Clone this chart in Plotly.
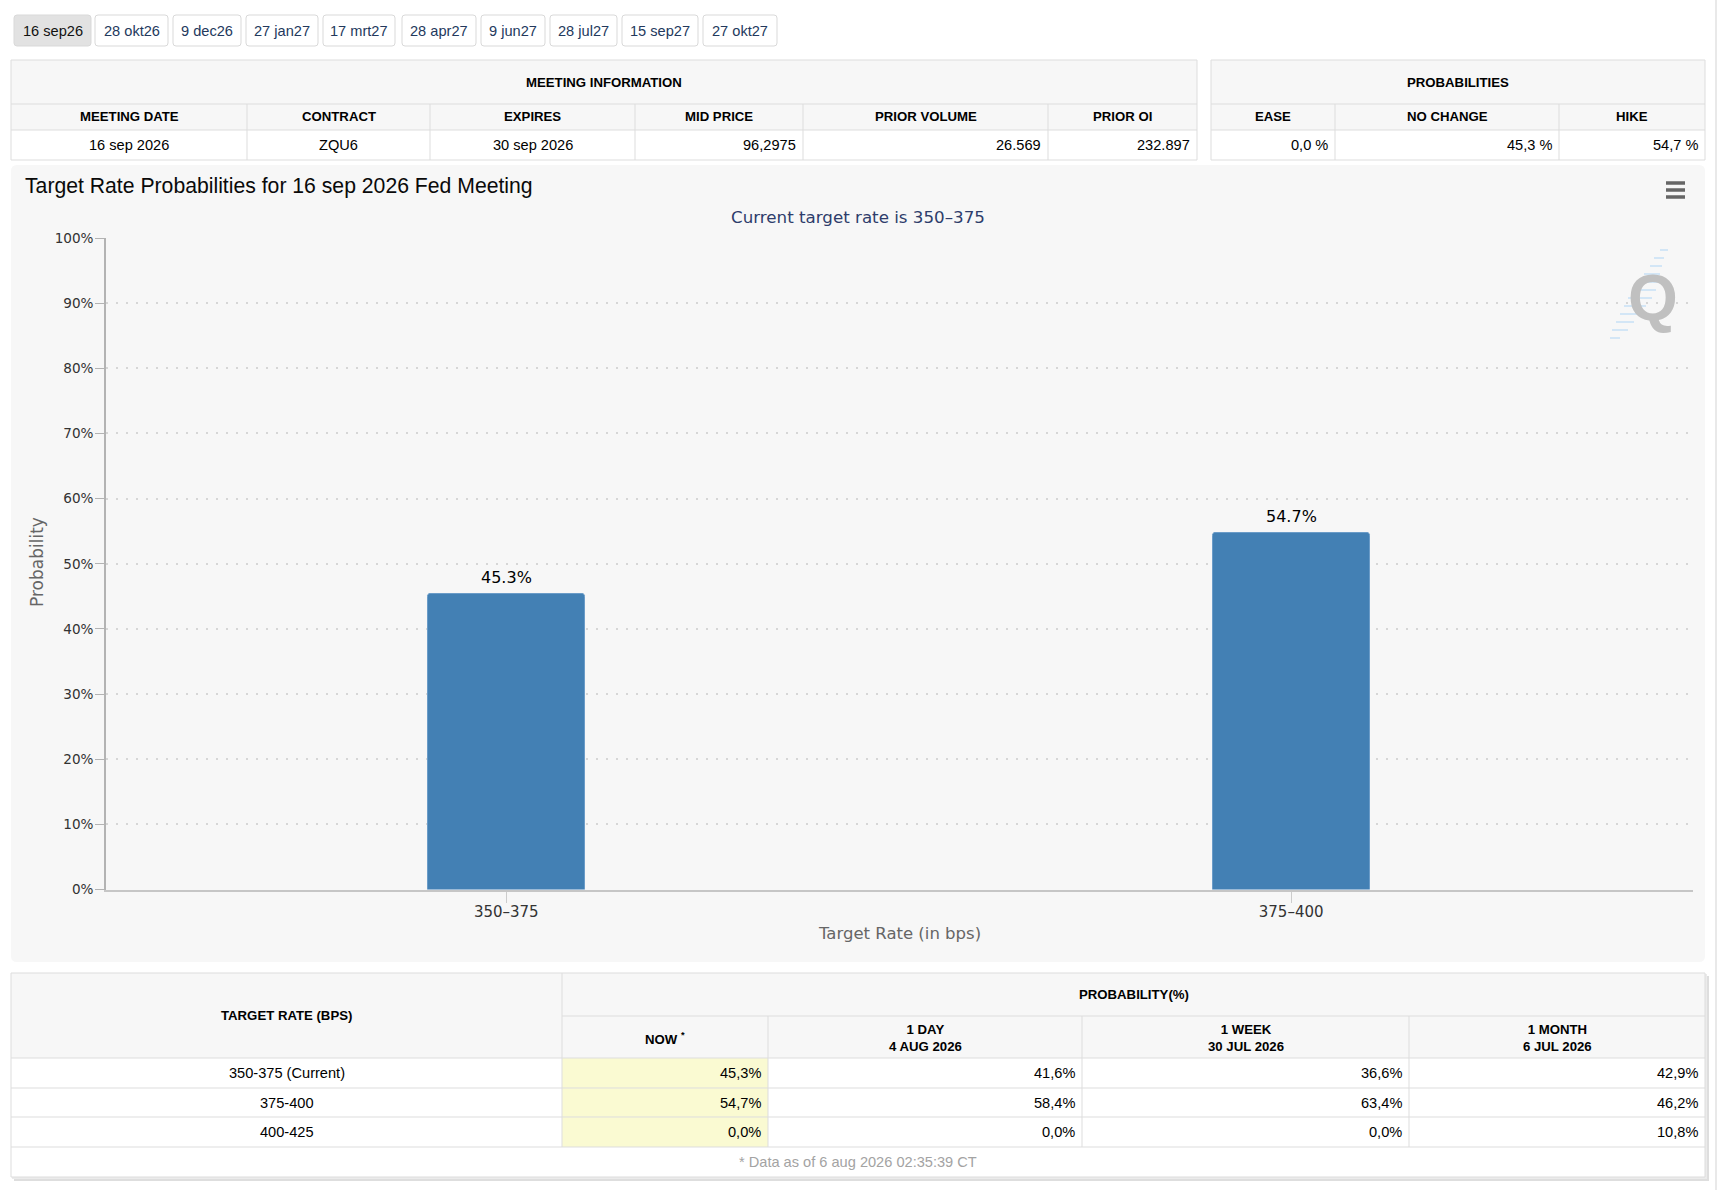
import plotly.graph_objects as go

W, H = 1722, 1190

# ---------------- data ----------------
meeting_buttons = ["16 sep26", "28 okt26", "9 dec26", "27 jan27", "17 mrt27",
                   "28 apr27", "9 jun27", "28 jul27", "15 sep27", "27 okt27"]
selected_button = 0
meeting_headers = ["MEETING DATE", "CONTRACT", "EXPIRES", "MID PRICE", "PRIOR VOLUME", "PRIOR OI"]
meeting_values = ["16 sep 2026", "ZQU6", "30 sep 2026", "96,2975", "26.569", "232.897"]
prob_headers = ["EASE", "NO CHANGE", "HIKE"]
prob_values = [0.0, 45.3, 54.7]

chart_title = "Target Rate Probabilities for 16 sep 2026 Fed Meeting"
current_rate = "350–375"
rate_bins = ["350–375", "375–400"]
prob_chart = [45.3, 54.7]

table_rates = ["350-375 (Current)", "375-400", "400-425"]
hist_headers = ["NOW <sup>*</sup>", "1 DAY<br>4 AUG 2026", "1 WEEK<br>30 JUL 2026", "1 MONTH<br>6 JUL 2026"]
prob_now = [45.3, 54.7, 0.0]
prob_1day = [41.6, 58.4, 0.0]
prob_1week = [36.6, 63.4, 0.0]
prob_1month = [42.9, 46.2, 10.8]
data_timestamp = "6 aug 2026 02:35:39 CT"

# ---------------- layout constants (pixels) ----------------
BTN_EDGES = [(14, 91), (95, 168), (173, 241), (246, 318), (323, 395),
             (402, 476), (481, 545), (550, 617), (622, 698), (703, 777)]
BTN_Y = (15, 46)
MI_COLS = [11, 247, 430, 635, 803, 1048, 1197]
PR_COLS = [1211, 1335, 1559, 1705]
TOP_ROWS = [60, 104, 130, 160]
MI_ALIGN = ["center", "center", "center", "right", "right", "right"]
BT_COLS = [11, 562, 768, 1082, 1409, 1705]
BT_ROWS = [973, 1016, 1058, 1088, 1117, 1147, 1177]
CHART_BOX = (11, 165, 1705, 962)
PLOT_X = (106, 1693)
PLOT_Y = (238, 889.5)

TABLE_FONT = "Liberation Sans, Arial, Helvetica, sans-serif"
CHART_FONT = "DejaVu Sans, Verdana, sans-serif"
BORDER = "#dddddd"
HEAD_BG = "#f7f7f7"
HEAD_SIZE = 13.2
CELL_SIZE = 14.6


def X(v):
    return v / W


def Y(v):
    return 1 - v / H


shapes = []
annotations = []


def rect(x0, y0, x1, y1, fill=None, line=None, lw=1, layer="below"):
    shapes.append(dict(type="rect", xref="paper", yref="paper",
                       x0=X(x0), x1=X(x1), y0=Y(y1), y1=Y(y0),
                       fillcolor=fill if fill else "rgba(0,0,0,0)",
                       line=dict(color=line if line else "rgba(0,0,0,0)", width=lw if line else 0),
                       layer=layer))


def rrect(x0, y0, x1, y1, r, fill, line=None, lw=1, layer="below"):
    p = (f"M {X(x0 + r)},{Y(y0)} L {X(x1 - r)},{Y(y0)} Q {X(x1)},{Y(y0)} {X(x1)},{Y(y0 + r)} "
         f"L {X(x1)},{Y(y1 - r)} Q {X(x1)},{Y(y1)} {X(x1 - r)},{Y(y1)} "
         f"L {X(x0 + r)},{Y(y1)} Q {X(x0)},{Y(y1)} {X(x0)},{Y(y1 - r)} "
         f"L {X(x0)},{Y(y0 + r)} Q {X(x0)},{Y(y0)} {X(x0 + r)},{Y(y0)} Z")
    shapes.append(dict(type="path", xref="paper", yref="paper", path=p,
                       fillcolor=fill,
                       line=dict(color=line if line else "rgba(0,0,0,0)", width=lw if line else 0),
                       layer=layer))


def hline(x0, x1, y, color=BORDER, lw=1, layer="below"):
    shapes.append(dict(type="line", xref="paper", yref="paper",
                       x0=X(x0), x1=X(x1), y0=Y(y), y1=Y(y),
                       line=dict(color=color, width=lw), layer=layer))


def vline(x, y0, y1, color=BORDER, lw=1, layer="below"):
    shapes.append(dict(type="line", xref="paper", yref="paper",
                       x0=X(x), x1=X(x), y0=Y(y0), y1=Y(y1),
                       line=dict(color=color, width=lw), layer=layer))


def text(x, y, s, size=13, color="#000000", family=TABLE_FONT, xanchor="center",
         yanchor="middle", angle=0):
    annotations.append(dict(x=X(x), y=Y(y), xref="paper", yref="paper", text=s,
                            showarrow=False, xanchor=xanchor, yanchor=yanchor,
                            textangle=angle,
                            font=dict(size=size, color=color, family=family)))


def pct(v, sep=""):
    return f"{v:.1f}".replace(".", ",") + sep + "%"


# ---------------- meeting buttons ----------------
for i, lab in enumerate(meeting_buttons):
    x0, x1 = BTN_EDGES[i]
    sel = i == selected_button
    rrect(x0, BTN_Y[0], x1, BTN_Y[1], 3,
          "#e2e2e2" if sel else "#ffffff", line="#d9d9d9", lw=1)
    text((x0 + x1) / 2, (BTN_Y[0] + BTN_Y[1]) / 2, lab, size=14.6,
         color="#111111" if sel else "#23395d")


# ---------------- top tables ----------------
def top_table(cols, title, headers, values, aligns):
    r = TOP_ROWS
    rect(cols[0], r[0], cols[-1], r[2], fill=HEAD_BG)
    rect(cols[0], r[2], cols[-1], r[3], fill="#ffffff")
    hline(cols[0], cols[-1], r[1])
    hline(cols[0], cols[-1], r[2])
    for c in cols[1:-1]:
        vline(c, r[1], r[3])
    rect(cols[0], r[0], cols[-1], r[3], line=BORDER, lw=1)
    text((cols[0] + cols[-1]) / 2, (r[0] + r[1]) / 2 + 0.5, f"<b>{title}</b>", size=HEAD_SIZE)
    for j, h in enumerate(headers):
        text((cols[j] + cols[j + 1]) / 2, (r[1] + r[2]) / 2, f"<b>{h}</b>", size=HEAD_SIZE)
        v = values[j]
        if aligns[j] == "right":
            text(cols[j + 1] - 5, (r[2] + r[3]) / 2, v, size=CELL_SIZE, xanchor="right")
        else:
            text((cols[j] + cols[j + 1]) / 2, (r[2] + r[3]) / 2, v, size=CELL_SIZE)


top_table(MI_COLS, "MEETING INFORMATION", meeting_headers, meeting_values, MI_ALIGN)
top_table(PR_COLS, "PROBABILITIES", prob_headers, [pct(v, " ") for v in prob_values],
          ["right"] * len(prob_headers))

# ---------------- chart container ----------------
rrect(*CHART_BOX, 6, "#f7f7f7")
text(23, 186, chart_title, size=21.2, color="#0a0a0a", xanchor="left",
     family="Liberation Sans, Arial, sans-serif")
text((CHART_BOX[0] + CHART_BOX[2]) / 2, 217, f"Current target rate is {current_rate}",
     size=16.7, color="#2e3d6b", family=CHART_FONT)
text(37, 562, "Probability", size=17, color="#666666", family=CHART_FONT, angle=-90)
text((PLOT_X[0] + PLOT_X[1]) / 2, 933, "Target Rate (in bps)", size=16.5, color="#666666",
     family=CHART_FONT)

# hamburger menu icon
for yy in (183, 190, 197):
    hline(1666, 1685, yy, color="#666666", lw=3.5, layer="above")

# watermark logo: light-blue streaks + Q
streaks = [(1660, 1668, 250), (1654, 1664, 258), (1650, 1662, 266), (1644, 1660, 274),
           (1638, 1658, 282), (1632, 1656, 290), (1628, 1652, 298), (1624, 1646, 306),
           (1620, 1640, 314), (1616, 1634, 322), (1612, 1628, 330), (1610, 1620, 338)]
for a, b, yy in streaks:
    hline(a, b, yy, color="#d3e6f6", lw=2, layer="above")
text(1653, 298, "<b>Q</b>", size=64, color="#c0c0c0", family="Liberation Sans, Arial, sans-serif")

# ---------------- bottom table ----------------
r = BT_ROWS
c = BT_COLS
rect(c[0] + 3, r[0] + 3, c[-1] + 4, r[-1] + 4, fill="#dedede")
rect(c[0] + 1, r[0] + 1, c[-1] + 2, r[-1] + 2, fill="#ebebeb")
rect(c[0], r[0], c[-1], r[-1], fill="#ffffff")
rect(c[0], r[0], c[-1], r[2], fill=HEAD_BG)
rect(c[1], r[2], c[2], r[5], fill="#fafad2")
hline(c[1], c[-1], r[1])
for yy in r[2:6]:
    hline(c[0], c[-1], yy)
vline(c[1], r[0], r[5])
for xx in c[2:-1]:
    vline(xx, r[1], r[5])
rect(c[0], r[0], c[-1], r[-1], line=BORDER, lw=1)

text((c[0] + c[1]) / 2, (r[0] + r[2]) / 2, "<b>TARGET RATE (BPS)</b>", size=HEAD_SIZE)
text((c[1] + c[-1]) / 2, (r[0] + r[1]) / 2, "<b>PROBABILITY(%)</b>", size=HEAD_SIZE)
for j, h in enumerate(hist_headers):
    text((c[j + 1] + c[j + 2]) / 2, (r[1] + r[2]) / 2 + 1, f"<b>{h}</b>", size=HEAD_SIZE)

series = [prob_now, prob_1day, prob_1week, prob_1month]
for i, rate in enumerate(table_rates):
    yc = (r[2 + i] + r[3 + i]) / 2
    text((c[0] + c[1]) / 2, yc, rate, size=CELL_SIZE)
    for j, s in enumerate(series):
        text(c[j + 2] - 5, yc, pct(s[i]), size=CELL_SIZE, xanchor="right")

text((c[0] + c[-1]) / 2, (r[5] + r[6]) / 2, f"* Data as of {data_timestamp}", size=CELL_SIZE,
     color="#a3a3a3")

# page scrollbar edge
vline(1716, 0, H, color="#e2e2e2", lw=1.5, layer="above")

# ---------------- bar chart ----------------
fig = go.Figure()
fig.add_trace(go.Bar(
    x=rate_bins, y=prob_chart, width=0.2,
    marker=dict(color="#4380b4", line=dict(color="#6b9cc8", width=1), cornerradius=3),
    hoverinfo="x+y", showlegend=False,
))

for cat, val in zip(rate_bins, prob_chart):
    annotations.append(dict(x=cat, y=val, xref="x", yref="y", text=f"{val:.1f}%",
                            showarrow=False, yanchor="middle", yshift=17,
                            font=dict(size=16, color="#000000", family=CHART_FONT)))

fig.update_layout(
    template="none",
    width=W, height=H, autosize=False,
    margin=dict(l=0, r=0, t=0, b=0, pad=0, autoexpand=False),
    paper_bgcolor="#ffffff",
    plot_bgcolor="rgba(0,0,0,0)",
    shapes=shapes,
    annotations=annotations,
    bargap=0,
    showlegend=False,
    xaxis=dict(
        domain=[X(PLOT_X[0]), X(PLOT_X[1])],
        type="category", automargin=False,
        range=[-0.51, 1.512],
        showline=True, linecolor="#c6c6c6", linewidth=2,
        ticks="outside", ticklen=11, tickcolor="#cccccc", tickwidth=1,
        ticklabelstandoff=-4,
        tickfont=dict(family=CHART_FONT, size=15, color="#333333"),
        showgrid=False, zeroline=False, fixedrange=True,
    ),
    yaxis=dict(
        domain=[Y(PLOT_Y[1]), Y(PLOT_Y[0])], automargin=False,
        range=[0, 100], dtick=10, ticksuffix="%",
        showline=True, linecolor="#b3b3b3", linewidth=1.5,
        ticks="outside", ticklen=9, tickcolor="#b3b3b3", tickwidth=1,
        ticklabelstandoff=-1,
        tickfont=dict(family=CHART_FONT, size=13.6, color="#333333"),
        showgrid=True, gridcolor="#d6d6d6", gridwidth=2, griddash="2px,8px",
        zeroline=False, fixedrange=True,
    ),
)

fig.write_html(
    "out.html", config={"displayModeBar": False},
    post_script=(
        "var d=document.documentElement,b=document.body;"
        "d.style.margin='0';d.style.padding='0';d.style.overflow='hidden';d.style.height='1190px';"
        "b.style.margin='0';b.style.padding='0';b.style.overflow='hidden';b.style.height='1190px';"
    ),
)
